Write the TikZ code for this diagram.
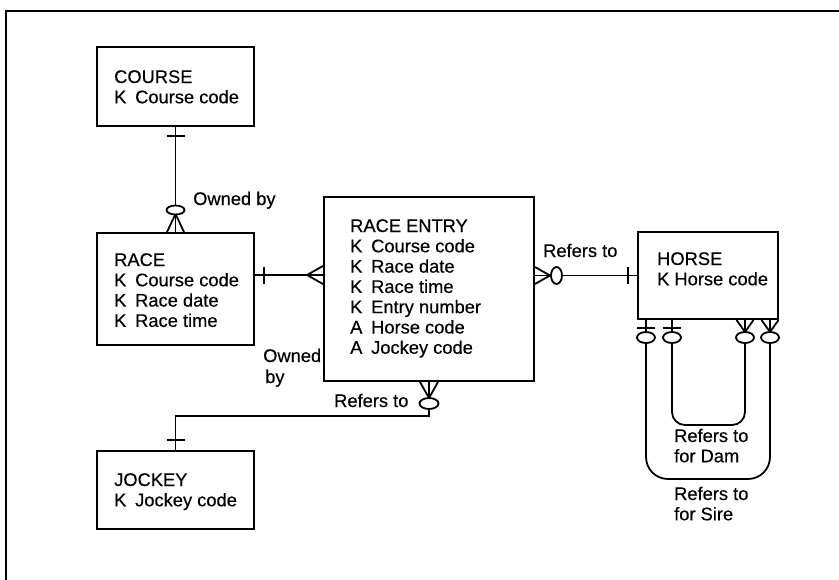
\documentclass[tikz,border=0pt]{standalone}
\usepackage{fontspec}
\setmainfont{Liberation Sans}
\newfontfamily\labelfont{Liberation Sans}[FakeBold=0.35]
\usetikzlibrary{calc}
% key column of the attribute lists
\newcommand{\keycol}[1]{\makebox[21pt][l]{#1}}
\begin{document}
\begin{tikzpicture}[x=1pt,y=-1pt,
  entity/.style={draw,line width=2pt,inner sep=0pt,anchor=north west},
  txt/.style={anchor=base west,inner sep=0pt,font=\labelfont\fontsize{18.3}{20.3}\selectfont},
  conn/.style={line width=1.8pt},
  ring/.style={conn,fill=white},
]
\useasboundingbox (0,0) rectangle (839,579);
% frame
\draw[line width=2.6pt] (5,11) -- (845,11);
\draw[line width=2.2pt] (6,11) -- (6,585);

% entities
\node[entity,minimum width=157pt,minimum height=79pt]  (course) at (96,46) {};
\node[entity,minimum width=157pt,minimum height=112pt] (race)   at (96,232) {};
\node[entity,minimum width=210pt,minimum height=184pt] (entry)  at (323,196) {};
\node[entity,minimum width=140pt,minimum height=87pt]  (horse)  at (637,231) {};
\node[entity,minimum width=157pt,minimum height=78pt]  (jockey) at (96,450) {};

\node[txt] (courseT) at (114,83) {\begin{tabular}[t]{@{}l@{}}
  COURSE\\ \keycol{K}Course code\end{tabular}};
\node[txt] (raceT) at (114,266) {\begin{tabular}[t]{@{}l@{}}
  RACE\\ \keycol{K}Course code\\ \keycol{K}Race date\\ \keycol{K}Race time\end{tabular}};
\node[txt] (entryT) at (350,232) {\begin{tabular}[t]{@{}l@{}}
  RACE ENTRY\\ \keycol{K}Course code\\ \keycol{K}Race date\\ \keycol{K}Race time\\
  \keycol{K}Entry number\\ \keycol{A}Horse code\\ \keycol{A}Jockey code\end{tabular}};
\node[txt] (horseT) at (657,265) {\begin{tabular}[t]{@{}l@{}}
  HORSE\\ K Horse code\end{tabular}};
\node[txt] (jockeyT) at (114,486) {\begin{tabular}[t]{@{}l@{}}
  JOCKEY\\ \keycol{K}Jockey code\end{tabular}};

% COURSE -- RACE
\draw[conn] (course.south) -- (race.north);
\draw[conn] ($(course.south)+(-9,9)$) -- ++(18,0);
\draw[conn] ($(race.north)+(0,-18)$) -- ($(race.north)+(-8.5,0)$)
            ($(race.north)+(0,-18)$) -- ($(race.north)+(8.5,0)$);
\draw[ring] ($(race.north)+(0,-22)$) ellipse [x radius=9pt,y radius=4.5pt];
\node[txt] (ownedA) at (193,205) {Owned by};

% RACE -- RACE ENTRY
\coordinate (rA) at ([yshift=14pt]race.east);
\coordinate (rB) at ([yshift=14pt]entry.west);
\draw[conn] (rA) -- (rB);
\draw[conn] ($(rA)+(9,-8.5)$) -- ++(0,17);
\draw[conn] ($(rB)+(-16,0)$) -- ($(rB)+(0,-9)$)
            ($(rB)+(-16,0)$) -- ($(rB)+(0,9)$);
\node[txt] (ownedB) at (263,362) {\begin{tabular}[t]{@{}l@{}}Owned\\[0.7pt]\hspace{2pt}by\end{tabular}};

% RACE ENTRY -- HORSE
\coordinate (hA) at (entry.east |- horse.west);
\draw[conn] (hA) -- (horse.west);
\draw[conn] ($(hA)+(15,0)$) -- ($(hA)+(0,-8.5)$)
            ($(hA)+(15,0)$) -- ($(hA)+(0,8.5)$);
\draw[ring] ($(hA)+(21.5,0)$) ellipse [x radius=5.5pt,y radius=8.5pt];
\draw[conn] ($(horse.west)+(-9,-8.5)$) -- ++(0,17);
\node[txt] (refH) at (543,257) {Refers to};

% RACE ENTRY -- JOCKEY
\draw[conn] (entry.south) -- ++(0,34) -| (jockey.north);
\draw[conn] ($(entry.south)+(0,16)$) -- ($(entry.south)+(-9,0)$)
            ($(entry.south)+(0,16)$) -- ($(entry.south)+(9,0)$);
\draw[ring] ($(entry.south)+(0,21.5)$) ellipse [x radius=9.5pt,y radius=5.5pt];
\draw[conn] ($(jockey.north)+(-9,-10)$) -- ++(18,0);
\node[txt] (refJ) at (334,407) {Refers to};

% HORSE -- HORSE (sire and dam)
\coordinate (s1) at ([xshift=9pt]horse.south west);
\coordinate (d1) at ([xshift=35pt]horse.south west);
\coordinate (d2) at ([xshift=-34pt]horse.south east);
\coordinate (s2) at ([xshift=-9pt]horse.south east);
\draw[conn,rounded corners=22pt] (s1) -- ++(0,159) -| (s2);
\draw[conn,rounded corners=13pt] (d1) -- ++(0,105) -| (d2);
\foreach \p in {s1,d1}{
  \draw[conn] ($(\p)+(-9,8)$) -- ++(18,0);
  \draw[ring] ($(\p)+(0,17.5)$) ellipse [x radius=9pt,y radius=5.5pt];
}
\foreach \p in {s2,d2}{
  \draw[conn] ($(\p)+(0,12)$) -- ($(\p)+(-8.5,0)$)
              ($(\p)+(0,12)$) -- ($(\p)+(8.5,0)$);
  \draw[ring] ($(\p)+(0,17.5)$) ellipse [x radius=9pt,y radius=5.5pt];
}
\node[txt] (refDam) at (674,442) {\begin{tabular}[t]{@{}l@{}}Refers to\\ for Dam\end{tabular}};
\node[txt] (refSire) at (674,500) {\begin{tabular}[t]{@{}l@{}}Refers to\\ for Sire\end{tabular}};
\end{tikzpicture}
\end{document}
